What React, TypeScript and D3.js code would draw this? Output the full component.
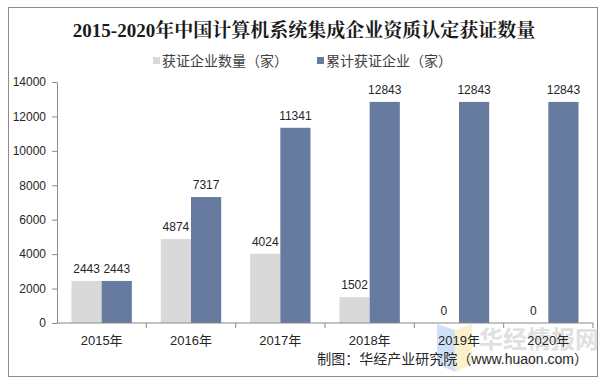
import { useEffect, useRef } from "react";
import * as d3 from "d3";

const years = ["2015年", "2016年", "2017年", "2018年", "2019年", "2020年"];
const certified = [2443, 4874, 4024, 1502, 0, 0];
const cumulative = [2443, 7317, 11341, 12843, 12843, 12843];
const yTicks = [0, 2000, 4000, 6000, 8000, 10000, 12000, 14000];
const seriesNames = ["获证企业数量（家）", "累计获证企业（家）"];

const width = 608;
const height = 384;
const margin = { top: 82, right: 15, bottom: 61, left: 57 };
const colors = ["#d9d9d9", "#677ba1"];
const font = "Arial, 'Liberation Sans', 'Noto Sans CJK SC', sans-serif";

const App = () => {
  const ref = useRef<SVGSVGElement>(null);

  useEffect(() => {
    const svg = d3.select(ref.current);
    svg.selectAll("*").remove();

    const x = d3.scaleBand().domain(years).range([margin.left, width - margin.right]).paddingInner(0).paddingOuter(0);
    const y = d3.scaleLinear().domain([0, 14000]).range([height - margin.bottom, margin.top]);
    // two bars of ~30px per 89px category
    const inner = d3.scaleBand().domain(["a", "b"]).range([0, x.bandwidth()]).paddingOuter(0.48).paddingInner(0);

    // frame
    svg.append("rect")
      .attr("x", 8.5).attr("y", 7.5)
      .attr("width", 589).attr("height", 369)
      .attr("fill", "#fff").attr("stroke", "#8c8c8c");

    // title
    svg.append("text")
      .attr("x", 304).attr("y", 37)
      .attr("text-anchor", "middle")
      .attr("font-family", "'Liberation Serif', 'Noto Serif CJK SC', 'Noto Sans CJK SC', serif")
      .attr("font-weight", "bold")
      .attr("font-size", 19)
      .attr("fill", "#1a1a1a")
      .text("2015-2020年中国计算机系统集成企业资质认定获证数量");

    // legend
    const legendX = [153, 317];
    seriesNames.forEach((name, i) => {
      const g = svg.append("g").attr("transform", `translate(${legendX[i]},61)`);
      g.append("rect").attr("x", 0).attr("y", -4).attr("width", 7).attr("height", 7).attr("fill", colors[i]);
      g.append("text").attr("x", 9).attr("y", 5)
        .attr("font-family", font).attr("font-size", 14).attr("fill", "#404040").text(name);
    });

    // watermark
    const wm = svg.append("g").attr("opacity", 0.55);
    wm.append("path").attr("d", "M437,324 L455,330 L455,372 L437,364 Z").attr("fill", "#a9c9f2");
    wm.append("path").attr("d", "M455,330 L472,324 L472,364 L455,372 Z").attr("fill", "#f6e7a3");
    wm.append("text").attr("x", 479).attr("y", 348)
      .attr("font-family", "'Noto Sans CJK SC', sans-serif").attr("font-weight", "bold")
      .attr("font-size", 24).attr("fill", "#c8c8c8").text("华经情报网");
    wm.append("text").attr("x", 482).attr("y", 366)
      .attr("font-family", font).attr("font-size", 13).attr("letter-spacing", 4)
      .attr("fill", "#dddddd").text("huaon.com");

    // bars
    const groups = svg.append("g").selectAll("g").data(years).join("g")
      .attr("transform", d => `translate(${x(d)},0)`);

    groups.append("rect")
      .attr("x", inner("a")!).attr("width", inner.bandwidth())
      .attr("y", (_, i) => y(certified[i])).attr("height", (_, i) => y(0) - y(certified[i]))
      .attr("fill", colors[0]);
    groups.append("rect")
      .attr("x", inner("b")!).attr("width", inner.bandwidth())
      .attr("y", (_, i) => y(cumulative[i])).attr("height", (_, i) => y(0) - y(cumulative[i]))
      .attr("fill", colors[1]);

    groups.append("text")
      .attr("x", inner("a")! + inner.bandwidth() / 2)
      .attr("y", (_, i) => y(certified[i]) - 8)
      .attr("text-anchor", "middle").attr("font-family", font).attr("font-size", 12).attr("fill", "#262626")
      .text((_, i) => certified[i]);
    groups.append("text")
      .attr("x", inner("b")! + inner.bandwidth() / 2)
      .attr("y", (_, i) => y(cumulative[i]) - 8)
      .attr("text-anchor", "middle").attr("font-family", font).attr("font-size", 12).attr("fill", "#262626")
      .text((_, i) => cumulative[i]);

    // y axis
    const yAxis = svg.append("g")
      .attr("transform", `translate(${margin.left},0)`)
      .call(d3.axisLeft(y).tickValues(yTicks).tickFormat(d3.format("d")).tickSize(5).tickSizeOuter(0).tickPadding(6));
    yAxis.select(".domain").attr("stroke", "#898989");
    yAxis.selectAll(".tick line").attr("stroke", "#898989");
    yAxis.selectAll(".tick text").attr("font-family", font).attr("font-size", 12).attr("fill", "#262626");

    // x axis
    const xAxis = svg.append("g").attr("transform", `translate(0,${y(0)})`);
    xAxis.append("line")
      .attr("x1", margin.left).attr("x2", width - margin.right)
      .attr("stroke", "#898989");
    xAxis.selectAll("line.tick").data(years).join("line").attr("class", "tick")
      .attr("x1", d => x(d)! + x.bandwidth()).attr("x2", d => x(d)! + x.bandwidth())
      .attr("y1", 0).attr("y2", 5).attr("stroke", "#898989");
    xAxis.selectAll("text").data(years).join("text")
      .attr("x", d => x(d)! + x.bandwidth() / 2).attr("y", 22)
      .attr("text-anchor", "middle").attr("font-family", font).attr("font-size", 13).attr("fill", "#262626")
      .text(d => d);

    // source
    svg.append("text")
      .attr("x", 588).attr("y", 364)
      .attr("text-anchor", "end").attr("font-family", font).attr("font-size", 14).attr("fill", "#262626")
      .text("制图：华经产业研究院（www.huaon.com）");
  }, []);

  return <svg ref={ref} width={width} height={height} style={{ position: "absolute", left: 0, top: 0 }} />;
};

export default App;
